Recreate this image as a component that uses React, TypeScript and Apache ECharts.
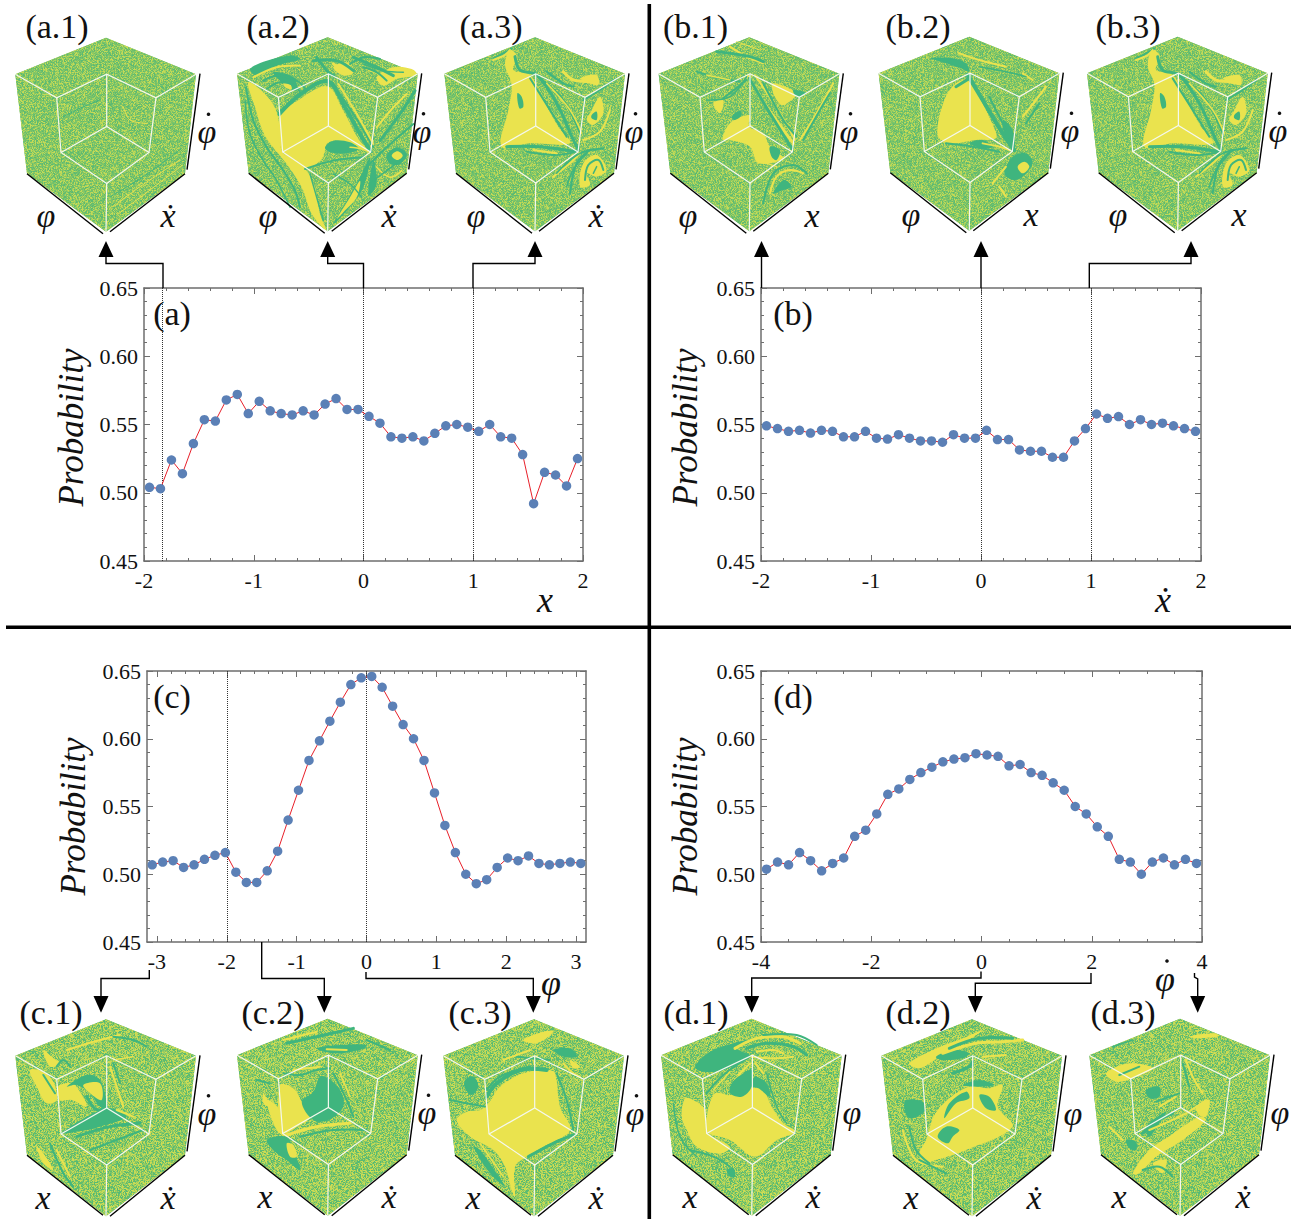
import React, { useEffect, useRef } from "react";
import * as echarts from "echarts";

const SERIF = '"Liberation Serif", "Times New Roman", serif';

const X_AB = [-1.95,-1.85,-1.75,-1.65,-1.55,-1.45,-1.35,-1.25,-1.15,-1.05,-0.95,-0.85,-0.75,-0.65,-0.55,-0.45,-0.35,-0.25,-0.15,-0.05,0.05,0.15,0.25,0.35,0.45,0.55,0.65,0.75,0.85,0.95,1.05,1.15,1.25,1.35,1.45,1.55,1.65,1.75,1.85,1.95];
const Y_A = [0.504,0.503,0.524,0.514,0.536,0.5535,0.5525,0.568,0.572,0.558,0.567,0.56,0.558,0.557,0.56,0.557,0.565,0.569,0.561,0.561,0.556,0.551,0.541,0.54,0.541,0.538,0.5435,0.549,0.55,0.548,0.545,0.55,0.541,0.54,0.528,0.492,0.515,0.513,0.505,0.525];
const Y_B = [0.549,0.547,0.545,0.5457,0.5437,0.5457,0.545,0.541,0.541,0.545,0.54,0.5393,0.5425,0.54,0.538,0.538,0.537,0.5425,0.54,0.54,0.5457,0.539,0.539,0.5314,0.5304,0.5304,0.526,0.526,0.538,0.547,0.5577,0.5545,0.5558,0.55,0.5535,0.55,0.551,0.549,0.547,0.545];
const X_C = [-3.067,-2.917,-2.768,-2.618,-2.468,-2.319,-2.169,-2.02,-1.87,-1.72,-1.571,-1.421,-1.272,-1.122,-0.973,-0.823,-0.673,-0.524,-0.374,-0.224,-0.075,0.075,0.224,0.374,0.524,0.673,0.823,0.973,1.122,1.272,1.421,1.571,1.72,1.87,2.02,2.169,2.319,2.468,2.618,2.768,2.917,3.067];
const Y_C = [0.507,0.509,0.51,0.505,0.507,0.511,0.514,0.516,0.5015,0.494,0.494,0.5025,0.517,0.54,0.562,0.584,0.5985,0.613,0.627,0.64,0.645,0.646,0.638,0.624,0.6105,0.6,0.584,0.56,0.536,0.516,0.5,0.493,0.496,0.505,0.512,0.51,0.5135,0.508,0.507,0.508,0.509,0.508];
const X_D = [-3.9,-3.7,-3.5,-3.3,-3.1,-2.9,-2.7,-2.5,-2.3,-2.1,-1.9,-1.7,-1.5,-1.3,-1.1,-0.9,-0.7,-0.5,-0.3,-0.1,0.1,0.3,0.5,0.7,0.9,1.1,1.3,1.5,1.7,1.9,2.1,2.3,2.5,2.7,2.9,3.1,3.3,3.5,3.7,3.9];
const Y_D = [0.5037,0.509,0.507,0.516,0.51,0.5025,0.508,0.512,0.528,0.5325,0.5445,0.559,0.563,0.57,0.575,0.579,0.583,0.585,0.586,0.589,0.588,0.587,0.58,0.581,0.575,0.573,0.5675,0.562,0.55,0.5445,0.535,0.528,0.511,0.509,0.5,0.509,0.512,0.507,0.511,0.508];

const Y_MAJOR = [0.45, 0.5, 0.55, 0.6, 0.65];
const Y_MINOR = [0.46,0.47,0.48,0.49,0.51,0.52,0.53,0.54,0.56,0.57,0.58,0.59,0.61,0.62,0.63,0.64];
const X_MAJOR_AB = [-2, -1, 0, 1, 2];
const X_MINOR_AB = [-1.8,-1.6,-1.4,-1.2,-0.8,-0.6,-0.4,-0.2,0.2,0.4,0.6,0.8,1.2,1.4,1.6,1.8];
const X_MAJOR_C = [-3, -2, -1, 0, 1, 2, 3];
const X_MINOR_C = [-2.8,-2.6,-2.4,-2.2,-1.8,-1.6,-1.4,-1.2,-0.8,-0.6,-0.4,-0.2,0.2,0.4,0.6,0.8,1.2,1.4,1.6,1.8,2.2,2.4,2.6,2.8];
const X_MAJOR_D = [-4, -2, 0, 2, 4];
const X_MINOR_D = [-3.5,-3,-2.5,-1.5,-1,-0.5,0.5,1,1.5,2.5,3,3.5];

const PANELS = [
  { tag: "(a)", tagAt: [172, 313], nameGap: 55, nameShift: 6, box: [144, 288, 583, 561], lim: [-2, 2], xs: X_AB, ys: Y_A, major: X_MAJOR_AB, minor: X_MINOR_AB, marks: [-1.83, 0, 1] },
  { tag: "(b)", tagAt: [793, 313], nameGap: 58, nameShift: 6, box: [761, 288, 1201, 561], lim: [-2, 2], xs: X_AB, ys: Y_B, major: X_MAJOR_AB, minor: X_MINOR_AB, marks: [0, 1] },
  { tag: "(c)", tagAt: [172, 696], nameGap: 56, nameShift: 20, box: [147, 671, 586, 942], lim: [-3.1416, 3.1416], xs: X_C, ys: Y_C, major: X_MAJOR_C, minor: X_MINOR_C, marks: [-2, 0] },
  { tag: "(d)", tagAt: [793, 696], nameGap: 58, nameShift: 20, box: [761, 671, 1202, 942], lim: [-4, 4], xs: X_D, ys: Y_D, major: X_MAJOR_D, minor: X_MINOR_D, marks: [] as number[] },
];

const A3_SHAPES = [
  "Y 240,150 262,170 250,210 300,225 340,300 385,380 420,430 300,430 215,440 235,330 245,255 225,195",
  "G 262,280 275,290 280,320 268,325",
  "g3 255,170 270,210 320,225 380,310 430,420 445,450","g2 300,235 360,330 410,410","g2 330,235 400,300 450,400","y1.5 350,250 420,330 455,400",
  "g2 190,175 230,155 245,145","y2 190,180 225,165 240,150","g3 230,440 330,440 440,455","g2 290,455 370,465 430,458","y2 310,450 380,460",
  "y3 400,215 430,240 470,245 500,250","Y 450,235 500,225 505,255 470,245","g2 350,215 400,250 430,260",
  "Y 450,560 460,490 500,465 530,510 500,530 470,520 480,555","g2 465,540 475,495 505,480 520,510","g1.5 490,520 500,500","g2 400,500 450,460 520,445","g2 420,580 440,490 480,450",
  "Y 480,340 510,290 520,340 490,375 470,360","G 485,345 500,335 500,360 485,355","y2 460,420 510,395 540,330","g2 460,300 510,270 550,240","y2 370,530 420,490 450,460",
  "g1.5 410,560 430,510 470,460","g1.5 380,520 420,480 460,455",
];

const CUBES = [
  { title: "(a.1)", tx: 57, apex: [106, 37.7], za: [318, 113], labels: ["φ", 46, "ẋ", 168, "φ", 207], shapes: [
    "y1 340,620 420,560 540,480","y1 350,645 450,570 548,495","g1 190,350 250,320 300,300","g1 330,590 430,530 545,445","y1 370,320 390,360 440,370",
  ]},
  { title: "(a.2)", tx: 278, apex: [327.7, 37.3], za: [983, 110], labels: ["φ", 268, "ẋ", 389, "φ", 422], shapes: [
    "Y 745,245 800,285 832,340 848,455 915,505 945,560 960,640 978,688 935,640 905,560 860,490 795,405 765,320",
    "g2 738,260 760,360 800,440 850,510 885,570 900,620","g1.5 735,300 750,400 790,480 830,540 870,620","g1.5 930,520 950,590 970,660",
    "Y 848,455 838,352 900,295 983,258 1030,330 1075,415 1105,452 1040,425 985,425 965,475 915,503",
    "g4 838,340 900,282 983,242 1035,320 1080,400 1112,452","g2 1000,255 1060,340 1120,440","y2 1015,250 1070,340 1120,430",
    "G 975,440 1000,420 1050,425 1075,445 1040,458 990,455","y1.5 1050,440 1085,445 1110,455",
    "g2 790,240 830,225 890,240 920,270","g2 800,265 840,245 885,255 900,275",
    "G 750,205 800,180 870,165 900,175 830,195 770,225","g3 950,170 985,215 1000,225","y3 1000,190 1030,215","g3 940,180 1010,180 1060,210","g3 1060,170 1120,195 1180,225",
    "y2 760,230 830,200 900,195","g2 1050,190 1090,170 1140,175","Y 1000,200 1040,185 1060,215 1030,225","g1.5 1090,190 1150,210 1210,215","y1.5 1100,205 1170,235",
    "G 820,215 880,230 890,270 850,250","Y 850,245 870,250 875,265 855,260",
    "Y 1130,230 1180,200 1235,205 1250,222 1190,235 1150,255","g2 1090,200 1130,215 1160,240",
    "G 1000,670 1040,600 1080,530 1110,470 1090,560 1040,630","Y 1010,655 1050,590 1080,540 1070,590 1030,635","g2 1090,510 1160,440 1240,370",
    "G 1160,465 1190,440 1220,460 1200,490 1170,490","Y 1175,465 1192,452 1208,465 1192,478","y2 1130,380 1180,320 1220,280","g3 1140,420 1200,340 1245,270","G 1120,480 1130,550 1105,585",
    "g2 915,505 1000,480 1090,470","g1.5 1000,520 1050,550 1085,590","y1.5 1130,500 1170,530 1205,510","g1.5 1120,540 1200,480",
  ]},
  { title: "(a.3)", tx: 491, apex: [535, 37.3], za: [315, 112], labels: ["φ", 476, "ẋ", 596, "φ", 634], shapes: A3_SHAPES },
  { title: "(b.1)", tx: 695.5, apex: [749.3, 37.3], za: [958, 112], labels: ["φ", 688, "x", 812, "φ", 849], shapes: [
    "Y 878,418 900,370 958,345 958,380 1000,400 1020,440 1060,475 985,490 960,440 900,420",
    "G 905,350 930,332 935,345 915,360","G 1020,440 1050,450 1040,480 1025,470",
    "y3 955,230 1010,320 1090,430","g3 958,235 1020,340 1085,445","y2 975,225 1050,340 1095,420","g2 1000,250 1060,360 1100,410",
    "Y 1030,250 1100,280 1085,300 1055,315 1030,280","G 1090,270 1130,280 1100,290","g2 880,295 950,240","Y 850,310 880,300 870,340","g1.5 830,300 900,290 950,230",
    "y2 900,140 950,170 1000,190","g3 860,155 960,170 1000,185","g2 800,215 870,235 930,245","y1.5 830,225 900,240","y1 920,125 990,150",
    "G 1030,580 1060,540 1085,560 1060,570","y2 1020,580 1040,530 1080,510 1120,520","g2 1000,610 1030,520 1090,495 1130,520","y2 1110,420 1160,340 1210,250","g2 1120,420 1170,330 1200,280","y1.5 980,480 1040,500",
  ]},
  { title: "(b.2)", tx: 918, apex: [969.3, 36.7], za: [310, 110], labels: ["φ", 911, "x", 1031, "φ", 1070], shapes: [
    "Y 215,405 235,300 270,250 310,240 340,290 385,385 390,415 330,420 250,430",
    "g4 305,225 350,300 410,400 445,450","G 410,360 440,390 445,450 420,420","g2 370,290 420,390",
    "G 195,175 260,175 300,190 310,215 285,205 240,190","g3 270,260 310,235","G 310,430 350,420 380,440 350,445","y2 350,430 400,440 430,450","g2 240,430 320,440 400,455",
    "y2 280,160 340,180 420,200","y2 470,220 500,240","g1.5 340,200 420,215 480,230",
    "G 415,520 440,470 480,460 500,490 470,530 440,540","Y 455,500 475,485 490,500 470,520","y2 380,550 420,500","y2 420,590 400,560","y2 470,350 510,300 540,260","g2 480,370 520,310",
  ]},
  { title: "(b.3)", tx: 1128, apex: [1177.7, 36.7], za: [315, 110], labels: ["φ", 1118, "x", 1239, "φ", 1278], shapes: A3_SHAPES },
  { title: "(c.1)", tx: 51, apex: [106, 1019.3], za: [318, 178], labels: ["x", 43, "ẋ", 168, "φ", 207], shapes: [
    "Y 90,330 130,335 160,365 170,420 140,430 110,380","g2 130,345 165,400","Y 175,380 215,370 240,395 260,440 215,420 180,420",
    "G 200,380 260,345 300,360 320,440 300,440 270,400 230,375","Y 250,375 300,370 305,420 270,400","g3 260,410 290,450 320,440","y2 330,320 350,380 370,440","g2 340,310 360,370",
    "G 190,518 320,445 380,470 300,500 260,510","g3 230,530 330,500 420,490","g2 270,570 350,540 430,510","y2 350,450 400,470",
    "Y 110,560 130,580 160,630 130,610","g2 150,550 190,640 220,680","y2 170,570 210,650","Y 130,270 160,295 180,310 150,320","g2 170,320 190,300 210,320","y2 200,270 300,240 360,225","g2 340,230 400,240 440,260","y1.5 340,300 400,290",
  ]},
  { title: "(c.2)", tx: 273, apex: [327.7, 1018.7], za: [983, 176], labels: ["x", 265, "ẋ", 389, "φ", 427], shapes: [
    "Y 840,375 880,385 905,425 930,470 900,495 847,518","G 905,425 940,395 960,350 985,355 1020,390 1030,440 985,480 940,480",
    "Y 800,420 835,445 848,518 880,520 860,530 830,510","G 800,540 860,530 880,570 900,630 860,600 830,580","Y 860,550 880,555 890,590 870,590",
    "g2 850,340 900,345 950,330 990,325","y2 880,330 960,320","g2 770,360 810,370","Y 790,400 810,440 790,430","g2 1000,340 1040,420 1060,470","y1.5 1020,340 1050,410",
    "g3 860,250 950,230 1060,205","y2 850,240 950,215","G 950,265 1020,255 1100,255 1080,270 1000,280","y2 980,268 1040,270","g2 1100,240 1170,270","y3 860,525 950,500 1050,490","g2 900,530 1000,510 1100,510",
  ]},
  { title: "(c.3)", tx: 480, apex: [534, 1019.3], za: [312, 178], labels: ["x", 473, "ẋ", 596, "φ", 635], shapes: [
    "Y 175,430 210,380 280,340 355,330 375,340 390,440 420,510 340,560 290,590 255,620 255,710 245,690 225,620 190,570 120,530 80,480 110,455 150,450",
    "g4 170,410 200,370 270,330 350,330","g2 170,390 210,350 300,320","G 105,360 130,350 145,380 125,405 105,385","g2 60,420 110,430 165,440",
    "G 130,560 150,570 200,640 225,680 180,640","y1.5 150,550 220,650","g2 380,340 410,420 430,510","Y 280,240 340,215 370,215 320,250","G 370,270 420,265 440,290 400,290",
    "y2 400,310 430,340 450,350","Y 420,300 450,320 430,325","g2 260,290 360,300","y2 220,300 300,270","g3 295,590 370,550 430,525",
  ]},
  { title: "(d.1)", tx: 696, apex: [751.7, 1018.7], za: [965, 176], labels: ["x", 690, "ẋ", 813, "φ", 852], shapes: [
    "G 795,320 840,275 910,250 960,240 920,265 960,288 880,330 820,335","y3 915,265 980,235 1060,230 1110,250","g3 950,265 1010,250 1090,260 1130,285","y2 980,275 1030,270 1060,280","y2 960,290 1030,295 1090,290","g2 1000,225 1100,225 1160,255",
    "Y 830,470 855,400 900,405 965,375 1000,390 1025,440 1060,490 1095,515 1040,540 975,590 900,540 830,515",
    "G 900,400 905,370 940,340 965,330 965,380 935,410","G 965,380 975,350 1010,370 1020,410 985,385","y2 925,345 960,310","y2 975,310 1000,340","g2 830,400 880,345 960,290","y1.5 850,390 900,335","g1.5 1010,340 1040,440 1070,490",
    "Y 765,415 790,420 825,450 830,515 900,560 870,580 800,560 770,510 755,470","g2 780,570 850,590 900,620","G 890,630 910,625 915,650 900,650","g1.5 730,430 750,530 800,590",
  ]},
  { title: "(d.2)", tx: 918, apex: [972, 1019.3], za: [318, 178], labels: ["x", 911, "ẋ", 1034, "φ", 1073], shapes: [
    "Y 130,310 200,270 290,235 350,210 300,245 220,290 160,325","G 210,290 260,270 310,280 290,295 230,300","y3 230,280 330,250 410,245 470,240","g3 250,265 340,235 440,235","y2 350,290 420,285",
    "Y 180,540 205,465 250,415 310,380 370,385 410,375 395,440 440,500 300,570 210,600 170,610 160,580",
    "G 235,475 250,430 300,395 310,415 270,430","G 340,405 370,410 390,450 360,445","G 290,375 340,360 385,375 340,380","G 215,530 240,500 280,510 260,530 245,550","G 120,420 170,425 175,455 130,475 115,445",
    "g3 260,340 310,320 320,305","g2 130,500 150,570 190,610","y2 110,510 150,600 230,620","g2 160,600 240,640",
  ]},
  { title: "(d.3)", tx: 1123, apex: [1180, 1018.7], za: [942, 176], labels: ["x", 1119, "ẋ", 1243, "φ", 1280], shapes: [
    "Y 800,640 850,570 900,535 1000,470 1020,480 950,540 870,590 820,640","Y 720,340 790,310 860,325 800,355 750,365","g2 760,345 820,320","g3 830,520 880,480 920,460","G 840,500 900,455 880,490 850,530","y2 850,510 960,460 1020,420",
    "G 840,390 880,380 880,410 850,415","g2 870,425 940,400","y2 880,440 930,410","Y 990,440 1030,420 1020,470 1000,465","y2 960,300 980,350 1010,400","g2 950,310 970,380","y2 730,500 770,540","G 780,540 810,545 810,570 790,565","g2 830,630 880,620 920,650","Y 860,610 900,600 890,640","Y 970,230 1040,220 1060,228 1000,235","g1.5 740,260 800,240","y1 1030,275 1045,280",
  ]},
];

const YELLOW = "#EAE34E";
const GREEN = "#3FB57E";
const BLACK = "#000";
// the cubes whose last axis is phi-dot carry a dot over that label
const DOTTED_RIGHT = [0, 1, 2, 3, 4, 5, 6, 7, 8];

function noiseTexture(cell: number, pal: number[][]): string {
  const size = 180;
  const c = document.createElement("canvas");
  c.width = size; c.height = size;
  const ctx = c.getContext("2d")!;
  let s = 20240611;
  for (let y = 0; y < size; y += cell) {
    for (let x = 0; x < size; x += cell) {
      s = (Math.imul(s, 1664525) + 1013904223) >>> 0;
      const p = pal[(s >>> 16) % pal.length];
      ctx.fillStyle = `rgb(${p[0]},${p[1]},${p[2]})`;
      ctx.fillRect(x, y, cell, cell);
    }
  }
  return c.toDataURL();
}
const PAL_FINE = [[112,192,108],[168,210,92],[140,200,100],[92,186,114],[196,218,86],[124,196,104]];
const PAL_COARSE = [[96,188,112],[196,218,86],[128,196,104],[166,208,92],[84,186,116],[206,220,84],[146,202,98]];

function txt(x: number, y: number, text: string, font: string, extra: any = {}) {
  return { type: "text", x, y, silent: true, z: 20, style: { text, font, fill: "#111", textAlign: "center", textVerticalAlign: "middle" }, ...extra };
}
function dot(x: number, y: number) {
  return { type: "circle", silent: true, z: 20, shape: { cx: x, cy: y, r: 1.8 }, style: { fill: "#111" } };
}
function pl(points: number[][], width = 1.3, color = BLACK, z = 15) {
  return { type: "polyline", silent: true, z, shape: { points }, style: { stroke: color, lineWidth: width, fill: "none" } };
}
function arrowHead(x: number, tip: number, base: number) {
  return { type: "polygon", silent: true, z: 16, shape: { points: [[x, tip], [x - 7.5, base], [x + 7.5, base]] }, style: { fill: BLACK } };
}

function cubeElements(cube: any, tex: string, bottomRow: boolean, rightDot: boolean): any[] {
  const [ax, ay] = cube.apex;
  const h = bottomRow ? 197 : 194;
  const p = (dx: number, dy: number) => [ax + dx, ay + dy];
  const A = p(0, 0), L = p(-90.7, 36.5), R = p(90, 36.5), BL = p(-79, 135.7), BR = p(79, 135.7), B = p(0, h);
  const C = p(0.7, 36.5), P = p(-49.3, 60), Q = p(50, 60), D = p(0.7, 88.7), E = p(-45, 114.7), F = p(43, 114.7), G = p(0.7, 145.7);
  const out: any[] = [];
  const sil = [A, R, BR, B, BL, L];
  out.push({ type: "polygon", silent: true, z: 5, shape: { points: sil }, style: { fill: "#8FC562" } });
  out.push({ type: "polygon", silent: true, z: 6, shape: { points: sil }, style: { fill: { image: tex, repeat: "repeat", imageWidth: 180, imageHeight: 180 } } });
  const ox = ax - cube.za[0] / 3, oy = ay - cube.za[1] / 3;
  for (const s of cube.shapes as string[]) {
    const parts = s.split(" ");
    const head = parts[0];
    const pts = parts.slice(1).map((q) => { const [a, b] = q.split(",").map(Number); return [ox + a / 3, oy + b / 3]; });
    if (head === "Y" || head === "G") {
      out.push({ type: "polygon", silent: true, z: 7, shape: { points: pts, smooth: 0.35 }, style: { fill: head === "Y" ? YELLOW : GREEN } });
    } else {
      out.push({ type: "polyline", silent: true, z: 8, shape: { points: pts, smooth: 0.35 }, style: { stroke: head[0] === "y" ? YELLOW : GREEN, lineWidth: Number(head.slice(1)), fill: "none", lineCap: "round" } });
    }
  }
  const W = "#F4F8EE";
  out.push(pl([L, P, C, Q, R], 1.2, W, 9), pl([P, E, G, F, Q], 1.2, W, 9), pl([C, D], 1.2, W, 9), pl([E, D, F], 1.2, W, 9), pl([G, B], 1.2, W, 9));
  out.push(pl([p(-79, 136), p(-3, 196)], 1.4), pl([p(4, bottomRow ? 197 : 194), p(79, 136)], 1.4), pl([p(94, 36), p(81, 132)], 1.4));
  const ly = ay + 178;
  const it = `italic 34px ${SERIF}`;
  out.push(txt(cube.labels[1], ly, cube.labels[0], it), txt(cube.labels[3], ly, cube.labels[2], it), txt(cube.labels[5], ay + 94, cube.labels[4], it));
  if (rightDot) out.push(dot(cube.labels[5] + 1.5, ay + 94 - 17.5));
  out.push(txt(cube.tx, bottomRow ? 1012 : 26, cube.title, `34px ${SERIF}`));
  return out;
}

const AXIS_COLOR = "#6e6e6e";

function makeOption(texFine: string, texCoarse: string) {
  const grid: any[] = [], xAxis: any[] = [], yAxis: any[] = [], series: any[] = [];
  PANELS.forEach((pn, g) => {
    const [l, t, r, b] = pn.box;
    grid.push({ left: l, top: t, width: r - l, height: b - t, show: false });
    const label = { color: "#111", fontFamily: SERIF, fontSize: 22 };
    const xBase = { type: "value", gridIndex: g, min: pn.lim[0], max: pn.lim[1], splitLine: { show: false } };
    const yBase = { type: "value", gridIndex: g, min: 0.45, max: 0.65, splitLine: { show: false } };
    const tick = (vals: number[], len: number) => ({ show: true, inside: true, length: len, customValues: vals, lineStyle: { color: AXIS_COLOR, width: 1 } });
    const line = (show: boolean) => ({ show, onZero: false, lineStyle: { color: AXIS_COLOR, width: 1.5 } });
    xAxis.push(
      { ...xBase, position: "bottom", axisLine: line(true), axisTick: tick(pn.major, 6), axisLabel: { ...label, show: true, margin: 8, customValues: pn.major, formatter: (v: number) => String(v) } },
      { ...xBase, position: "bottom", axisLine: line(false), axisTick: tick(pn.minor, 3), axisLabel: { show: false } },
      { ...xBase, position: "top", axisLine: line(true), axisTick: tick(pn.major, 6), axisLabel: { show: false } },
      { ...xBase, position: "top", axisLine: line(false), axisTick: tick(pn.minor, 3), axisLabel: { show: false } },
    );
    yAxis.push(
      { ...yBase, position: "left", axisLine: line(true), axisTick: tick(Y_MAJOR, 6), name: "Probability", nameLocation: "middle", nameGap: pn.nameGap, nameRotate: 90, nameTextStyle: { fontFamily: SERIF, fontStyle: "italic", fontSize: 35, color: "#111", padding: [0, pn.nameShift, 0, 0] }, axisLabel: { ...label, show: true, margin: 6, customValues: Y_MAJOR, formatter: (v: number) => v.toFixed(2) } },
      { ...yBase, position: "left", axisLine: line(false), axisTick: tick(Y_MINOR, 3), axisLabel: { show: false } },
      { ...yBase, position: "right", axisLine: line(true), axisTick: tick(Y_MAJOR, 6), axisLabel: { show: false } },
      { ...yBase, position: "right", axisLine: line(false), axisTick: tick(Y_MINOR, 3), axisLabel: { show: false } },
    );
    series.push({
      type: "line", xAxisIndex: g * 4, yAxisIndex: g * 4, data: pn.xs.map((x, i) => [x, pn.ys[i]]),
      symbol: "circle", symbolSize: 9.5, showSymbol: true, clip: false, z: 5,
      lineStyle: { color: "#E8202A", width: 1 }, itemStyle: { color: "#5B80B6" },
      markLine: pn.marks.length ? { silent: true, symbol: "none", label: { show: false }, lineStyle: { color: "#333", width: 1, type: "dotted" }, data: pn.marks.map((m) => ({ xAxis: m })) } : undefined,
    });
  });

  const els: any[] = [];
  CUBES.forEach((c, i) => els.push(...cubeElements(c, i >= 6 ? texCoarse : texFine, i >= 6, DOTTED_RIGHT.includes(i))));
  PANELS.forEach((pn) => els.push(txt(pn.tagAt[0], pn.tagAt[1], pn.tag, `34px ${SERIF}`)));
  const it = `italic 36px ${SERIF}`;
  els.push(txt(545, 600, "x", it), txt(1163, 600, "ẋ", it), txt(551, 983, "φ", it), txt(1165, 979, "φ", it), dot(1167, 961));

  els.push({ type: "rect", silent: true, z: 14, shape: { x: 647.5, y: 4, width: 3.6, height: 1215 }, style: { fill: BLACK } });
  els.push({ type: "rect", silent: true, z: 14, shape: { x: 6, y: 625.5, width: 1285, height: 3.4 }, style: { fill: BLACK } });

  const topTip = 241, topBase = 257, topY = 263.5;
  const topArrows: [number, number, boolean][] = [[163, 106, true], [363.5, 327.7, true], [473, 535, true], [761.5, 761.5, false], [981, 981, false], [1089.3, 1191, true]];
  topArrows.forEach(([from, to, bent]) => {
    els.push(pl(bent ? [[from, 288], [from, topY], [to, topY], [to, topBase]] : [[from, 288], [from, topBase]], 1.4), arrowHead(to, topTip, topBase));
  });
  const tip = 1012.7, base = 996;
  els.push(pl([[149.3, 970], [149.3, 978.5], [101, 978.5], [101, base]], 1.4), arrowHead(101, tip, base));
  els.push(pl([[261.7, 942], [261.7, 978.5], [324.3, 978.5], [324.3, base]], 1.4), arrowHead(324.3, tip, base));
  els.push(pl([[366, 972], [366, 978.5], [533.3, 978.5], [533.3, base]], 1.4), arrowHead(533.3, tip, base));
  els.push(pl([[981, 971.5], [981, 978], [751.7, 978], [751.7, base]], 1.4), arrowHead(751.7, tip, base));
  els.push(pl([[1091, 973], [1091, 983.3], [975.3, 983.3], [975.3, base]], 1.4), arrowHead(975.3, tip, base));
  els.push(pl([[1194.5, 973], [1194.5, 977], [1197.7, 979], [1197.7, base]], 1.4), arrowHead(1197.7, tip, base));

  return { animation: false, backgroundColor: "#fff", grid, xAxis, yAxis, series, graphic: { elements: els } };
}

export default function App() {
  const ref = useRef<HTMLDivElement>(null);
  useEffect(() => {
    const chart = echarts.init(ref.current!, undefined, { renderer: "svg" });
    chart.setOption(makeOption(noiseTexture(1, PAL_FINE), noiseTexture(1, PAL_COARSE)));
    return () => chart.dispose();
  }, []);
  return <div ref={ref} style={{ position: "absolute", left: 0, top: 0, width: 1306, height: 1219, background: "#fff" }} />;
}
